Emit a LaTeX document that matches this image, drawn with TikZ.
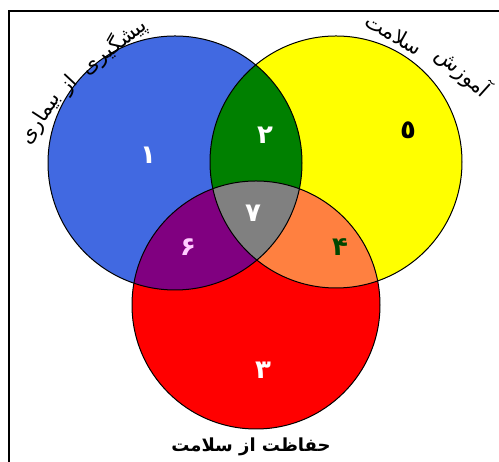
\documentclass[tikz,border=0pt]{standalone}
\usepackage{fontspec}
\newfontfamily\arabicfont[Script=Arabic]{DejaVu Sans}
\TeXXeTstate=1
\definecolor{setblue}{RGB}{65,105,225}
\definecolor{setyellow}{RGB}{255,255,0}
\definecolor{setred}{RGB}{255,0,0}
\definecolor{setgreen}{RGB}{0,128,0}
\definecolor{setpurple}{RGB}{128,0,128}
\definecolor{setorange}{RGB}{255,128,64}
\definecolor{setgray}{RGB}{128,128,128}
\definecolor{darkgreen}{RGB}{0,70,0}
\definecolor{lightpink}{RGB}{255,205,255}
\begin{document}
\begin{tikzpicture}[x=1pt,y=1pt,
    num/.style={font=\arabicfont\bfseries\fontsize{26}{26}\selectfont},
    outline/.style={draw=black,line width=1pt}]
\useasboundingbox (0,0) rectangle (499,462);
\coordinate (cb) at (175,299);
\coordinate (cy) at (336,300);
\coordinate (cr) at (256,157);
% circles
\fill[setblue] (cb) circle (127pt);
\fill[setyellow] (cy) circle (126pt);
\fill[setred] (cr) circle (124pt);
% overlaps
\begin{scope}
  \clip (cy) circle (126pt);
  \fill[setorange] (cr) circle (124pt);
\end{scope}
\begin{scope}
  \clip (cb) circle (127pt);
  \fill[setgreen] (cy) circle (126pt);
  \fill[setpurple] (cr) circle (124pt);
  \clip (cy) circle (126pt);
  \fill[setgray] (cr) circle (124pt);
\end{scope}
\draw[outline] (cb) circle (127pt);
\draw[outline] (cy) circle (126pt);
\draw[outline] (cr) circle (124pt);
% frame
\draw[line width=2pt] (9,0) -- (9,451) -- (499,451);
% numbers
\node[num, white] (n1) at (148,307) {۱};
\node[num, white] (n2) at (265,327) {۲};
\node[num, black] (n5) at (408,332) {٥};
\node[num, white] (n7) at (253,249) {۷};
\node[num, lightpink] (n6) at (188,215) {۶};
\node[num, darkgreen] (n4) at (340,215) {۴};
\node[num, white] (n3) at (263,92) {۳};
% labels
\node[rotate=38, font=\arabicfont\fontsize{21}{21}\selectfont] (lb1) at (114,416) {پیشگیری};
\node[rotate=47, font=\arabicfont\fontsize{21}{21}\selectfont] (lb2) at (69,377) {از};
\node[rotate=57, font=\arabicfont\fontsize{21}{21}\selectfont] (lb3) at (41,343) {بیماری};
\node[rotate=-29, font=\arabicfont\fontsize{21}{21}\selectfont] (ly1) at (394,428) {سلامت};
\node[rotate=-42, font=\arabicfont\fontsize{21}{21}\selectfont] (ly2) at (463,390) {آموزش};
\node[font=\arabicfont\bfseries\fontsize{18}{18}\selectfont] (lr) at (251,15) {\beginR حفاظت از سلامت\endR};
\end{tikzpicture}
\end{document}
